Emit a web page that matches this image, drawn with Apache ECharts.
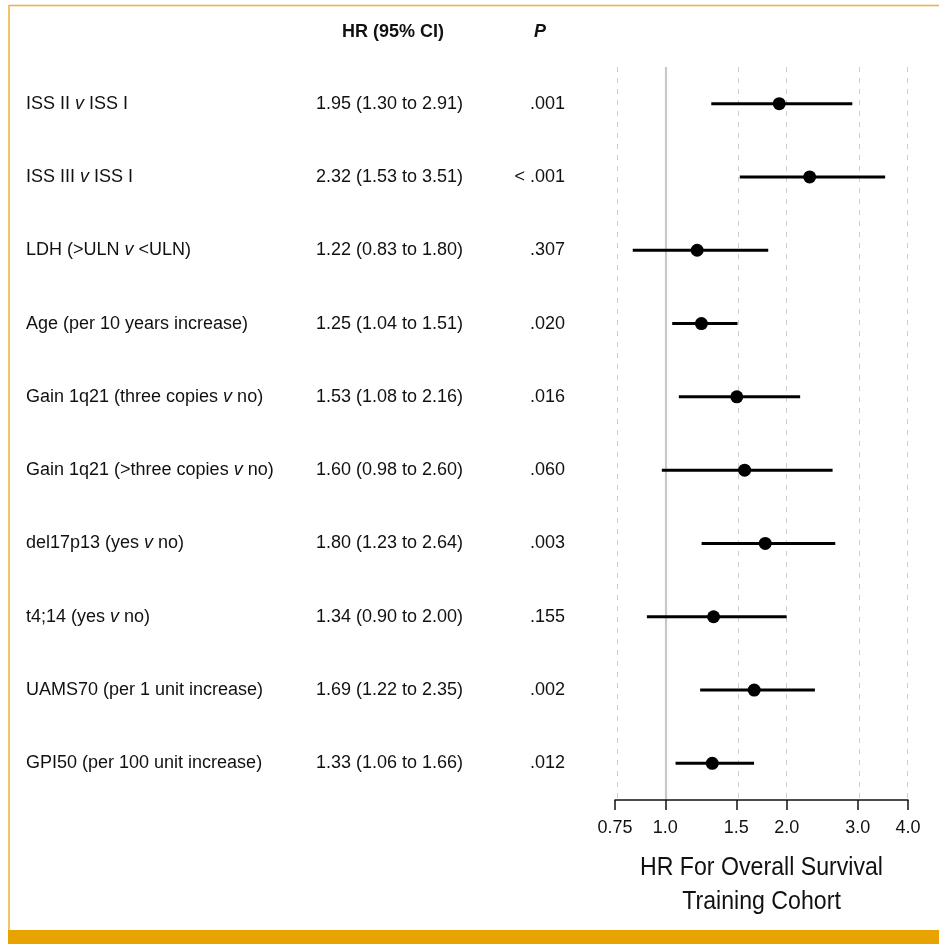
<!DOCTYPE html>
<html>
<head>
<meta charset="utf-8">
<script src="https://cdn.jsdelivr.net/npm/echarts@6/dist/echarts.min.js"></script>
<style>
html,body{margin:0;padding:0;background:#fff;}
#chart{width:939px;height:944px;}
</style>
</head>
<body>
<div id="chart"></div>
<script>
// ---- data ----
const labels = [
  'ISS II v ISS I',
  'ISS III v ISS I',
  'LDH (>ULN v <ULN)',
  'Age (per 10 years increase)',
  'Gain 1q21 (three copies v no)',
  'Gain 1q21 (>three copies v no)',
  'del17p13 (yes v no)',
  't4;14 (yes v no)',
  'UAMS70 (per 1 unit increase)',
  'GPI50 (per 100 unit increase)'
];
const hr = [1.95, 2.32, 1.22, 1.25, 1.53, 1.60, 1.80, 1.34, 1.69, 1.33];
const ciLow = [1.30, 1.53, 0.83, 1.04, 1.08, 0.98, 1.23, 0.90, 1.22, 1.06];
const ciHigh = [2.91, 3.51, 1.80, 1.51, 2.16, 2.60, 2.64, 2.00, 2.35, 1.66];
const pValues = ['.001', '< .001', '.307', '.020', '.016', '.060', '.003', '.155', '.002', '.012'];
const tickValues = [0.75, 1.0, 1.5, 2.0, 3.0, 4.0];
const tickLabels = ['0.75', '1.0', '1.5', '2.0', '3.0', '4.0'];
const refValue = 1.0;
const axisMin = 0.75;
const axisMax = 4.0;
const axisTitleLines = ['HR For Overall Survival', 'Training Cohort'];
const headerHR = 'HR (95% CI)';
const headerP = 'P';

// ---- chart ----
const FONT = 'Liberation Sans, Arial, Helvetica, sans-serif';
const lg = v => Math.log10(v);
const hrText = hr.map((h, i) => h.toFixed(2) + ' (' + ciLow[i].toFixed(2) + ' to ' + ciHigh[i].toFixed(2) + ')');
const richLabel = s => s.replace(/ v /g, ' {i|v} ');

const chart = echarts.init(document.getElementById('chart'), null, {renderer: 'canvas'});

const gridLeft = 615, gridRight = 31, gridTop = 67, gridBottom = 144;
const gridCenterX = gridLeft + (939 - gridLeft - gridRight) / 2;

const baseY = {
  type: 'category',
  data: labels,
  inverse: true,
  position: 'left',
  offset: 0,
  axisLine: {show: false},
  axisTick: {show: false},
  splitLine: {show: false}
};

const titleText = (txt, y) => ({
  type: 'text', silent: true, x: gridCenterX, y: y, scaleX: 0.89, scaleY: 1,
  style: {text: txt, align: 'center', verticalAlign: 'middle', textAlign: 'center', textVerticalAlign: 'middle',
          fontSize: 26, fontFamily: FONT, fill: '#111'}
});

const option = {
  animation: false,
  backgroundColor: '#ffffff',
  grid: {left: gridLeft, right: gridRight, top: gridTop, bottom: gridBottom, containLabel: false, outerBoundsMode: 'none'},
  xAxis: {
    type: 'value',
    min: lg(axisMin),
    max: lg(axisMax),
    splitLine: {show: false},
    axisLine: {show: true, lineStyle: {color: '#111', width: 1.5}},
    axisTick: {show: true, length: 10, inside: false, customValues: tickValues.map(lg), lineStyle: {color: '#111', width: 1.5}},
    axisLabel: {
      customValues: tickValues.map(lg),
      hideOverlap: false,
      showMinLabel: true,
      showMaxLabel: true,
      margin: 19,
      color: '#111',
      fontSize: 18,
      fontFamily: FONT,
      formatter: function (v) {
        let best = 0, bd = Infinity;
        tickValues.forEach((t, i) => { const d = Math.abs(lg(t) - v); if (d < bd) { bd = d; best = i; } });
        return tickLabels[best];
      }
    }
  },
  yAxis: [
    Object.assign({}, baseY, {
      axisLabel: {
        interval: 0, align: 'left', margin: gridLeft - 26, color: '#111', fontSize: 18, fontFamily: FONT,
        formatter: (v, i) => richLabel(labels[i]),
        rich: {i: {fontStyle: 'italic', fontSize: 18, fontFamily: FONT, color: '#111'}}
      }
    }),
    Object.assign({}, baseY, {
      axisLabel: {
        interval: 0, align: 'left', margin: gridLeft - 316, color: '#111', fontSize: 18, fontFamily: FONT,
        formatter: (v, i) => hrText[i]
      }
    }),
    Object.assign({}, baseY, {
      axisLabel: {
        interval: 0, align: 'right', margin: gridLeft - 565, color: '#111', fontSize: 18, fontFamily: FONT,
        formatter: (v, i) => pValues[i]
      }
    })
  ],
  graphic: [
    {type: 'rect', silent: true, z: 0, shape: {x: 8, y: 930, width: 931, height: 14}, style: {fill: '#E8A300'}},
    {type: 'line', silent: true, shape: {x1: 9, y1: 5.5, x2: 939, y2: 5.5}, style: {stroke: '#F0B13A', lineWidth: 1.5}},
    {type: 'line', silent: true, shape: {x1: 9, y1: 5, x2: 9, y2: 930}, style: {stroke: '#F0B13A', lineWidth: 1.5}},
    {type: 'text', silent: true, x: 393, y: 32, style: {text: headerHR, align: 'center', verticalAlign: 'middle', textAlign: 'center', textVerticalAlign: 'middle', fontSize: 18, fontWeight: 'bold', fontFamily: FONT, fill: '#111'}},
    {type: 'text', silent: true, x: 540, y: 32, style: {text: headerP, align: 'center', verticalAlign: 'middle', textAlign: 'center', textVerticalAlign: 'middle', fontSize: 18, fontWeight: 'bold', fontStyle: 'italic', fontFamily: FONT, fill: '#111'}},
    titleText(axisTitleLines[0], 868),
    titleText(axisTitleLines[1], 902)
  ],
  series: [
    {
      type: 'line',
      data: [],
      z: 0,
      silent: true,
      markLine: {
        z: 0,
        silent: true,
        symbol: ['none', 'none'],
        label: {show: false},
        data: tickValues.map(t => ({
          xAxis: lg(t),
          lineStyle: t === refValue
            ? {color: '#c8c8c8', width: 2.2, type: 'solid'}
            : {color: '#cfcfcf', width: 1, type: [5, 6]}
        }))
      }
    },
    {
      type: 'custom',
      z: 2,
      silent: true,
      data: labels.map((l, i) => [lg(ciLow[i]), lg(ciHigh[i]), i]),
      encode: {x: [0, 1], y: 2},
      renderItem: function (params, api) {
        const p1 = api.coord([api.value(0), api.value(2)]);
        const p2 = api.coord([api.value(1), api.value(2)]);
        return {
          type: 'line',
          shape: {x1: p1[0], y1: p1[1], x2: p2[0], y2: p2[1]},
          style: {stroke: '#000', lineWidth: 3, lineCap: 'butt'}
        };
      }
    },
    {
      type: 'scatter',
      z: 3,
      silent: true,
      symbol: 'circle',
      symbolSize: 13,
      symbolOffset: [-3, 0],
      itemStyle: {color: '#000', opacity: 1},
      data: labels.map((l, i) => [lg(hr[i]), i])
    }
  ]
};

chart.setOption(option);
</script>
</body>
</html>
